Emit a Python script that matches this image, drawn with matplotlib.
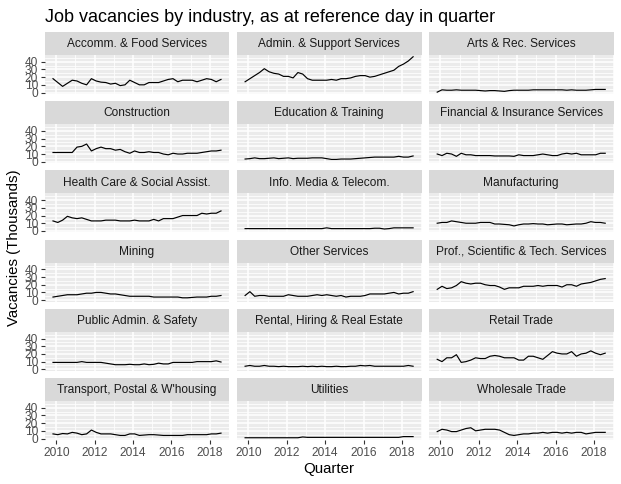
import matplotlib.pyplot as plt
import pandas as pd

plt.rcParams['font.family'] = ['Liberation Sans', 'DejaVu Sans']

# quarterly reference dates, Nov 2009 - Aug 2018
quarters = pd.date_range('2009-11-01', periods=36, freq='3MS')
xq = quarters.year + (quarters.month - 1) / 12

industries = [
    'Accomm. & Food Services', 'Admin. & Support Services', 'Arts & Rec. Services',
    'Construction', 'Education & Training', 'Financial & Insurance Services',
    'Health Care & Social Assist.', 'Info. Media & Telecom.', 'Manufacturing',
    'Mining', 'Other Services', 'Prof., Scientific & Tech. Services',
    'Public Admin. & Safety', 'Rental, Hiring & Real Estate', 'Retail Trade',
    'Transport, Postal & W\'housing', 'Utilities', 'Wholesale Trade',
]

# vacancies in thousands
accomm = [18, 13, 8, 12, 16, 15, 12, 10, 18, 15, 13.5, 13, 11, 12, 9, 10, 16, 13,
          10, 10, 13, 13, 13, 15, 17, 18, 14, 16, 16, 16, 14, 16, 18, 17, 14, 17]
admin = [14, 18, 22, 26, 31, 27, 25, 24, 21, 21, 19, 26, 24, 18, 16, 16, 16, 16,
         17, 16, 18, 18, 19, 21, 22, 22, 20, 21, 23, 25, 27, 29, 34, 37, 41, 46.5]
arts = [0.5, 3.5, 3, 3, 3.5, 3, 3, 3, 3, 2.5, 2, 2.5, 2.5, 2, 1.5, 2.5, 3, 3,
        3, 3, 3.5, 3.5, 3.5, 3.5, 3.5, 3.5, 3.5, 3, 3.5, 3, 3, 3, 3.5, 4, 4, 4]
construction = [12, 12, 12, 12, 12, 19, 20, 23, 14, 17, 19, 17, 17, 15, 16, 13, 11, 14,
                12, 12, 13, 12, 12, 10, 9, 11, 10, 10, 11, 11, 11, 12, 13, 14, 14, 15]
education = [3.5, 4, 5, 4, 4, 4.5, 5, 4, 4.5, 5, 4, 4.5, 4.5, 4.5, 5, 5, 5, 4,
             3, 3, 3.5, 3.5, 3.5, 4, 4.5, 5, 5.5, 6, 6, 6, 6, 6, 7, 6, 6, 7.5]
financial = [10, 8, 11, 10, 7, 11, 9, 9, 8, 8, 8, 8, 7.5, 7.5, 7.5, 7.5, 7, 9,
             8, 8, 8, 9, 10, 9, 8, 8, 10, 11, 10, 11, 9, 9, 9, 9, 11, 11]
health = [13, 11, 14, 19, 17, 16, 17, 15, 13, 13, 13, 14, 14, 14, 13, 13, 13, 14,
          13, 13, 13, 15, 13, 16, 16, 16, 18, 20, 20, 20, 20, 23, 22, 23, 23, 26]
info_media = [3, 3, 3, 3, 3, 3, 3, 3, 3, 3, 3, 3, 3, 3, 3, 3, 3, 4,
              3, 3, 3, 3, 3, 3, 3, 3, 3, 3.5, 3.5, 2.5, 3, 4, 4, 4, 4, 4]
manufacturing = [10, 11, 11, 13, 12, 11, 10, 10, 10, 11, 11, 11, 9, 9, 8.5, 8, 6.5, 8,
                 9, 9, 9.5, 9, 9, 8, 8.5, 9, 9, 8, 8.5, 9, 9, 10, 12, 11, 11, 10]
mining = [4, 5, 6, 7, 7, 7, 8, 9, 9, 10, 10, 9, 8, 8, 7, 6, 5, 5,
          5, 5, 5, 4, 4, 4, 4, 4, 4, 3, 3, 3.5, 4, 4, 4, 5, 5, 6]
other = [6, 11, 5, 6, 6, 5, 5, 5, 5, 7, 6, 5, 5, 5, 6, 7, 6, 7,
         6, 5, 6, 4, 5, 5, 5, 6, 8, 8, 8, 8, 9, 10, 8, 9, 9, 11]
prof_sci = [14, 18, 15, 16, 19, 24, 22, 21, 22, 22, 20, 19, 19, 17, 14, 16, 16, 16,
            18, 18, 18, 19, 18, 19, 19, 19, 17, 20, 20, 18, 21, 22, 23, 25, 27, 28]
public_admin = [9, 9, 9, 9, 9, 9, 10, 9, 9, 9, 9, 8, 7, 6, 6, 6, 6.5, 6,
                6, 7, 6, 6.5, 8, 7, 7, 9, 9, 9, 9, 9, 10, 10, 10, 10, 11, 9.5]
rental = [4, 5, 4, 4, 5, 4, 4, 3.5, 4, 3.5, 3.5, 3.5, 4, 3.5, 4, 3.5, 4, 3.5,
          3.5, 4, 3.5, 3.5, 4, 4, 5, 4.5, 5, 4, 4, 4, 4, 4, 4, 4, 5, 4]
retail = [13, 10, 15, 15, 19, 9, 10, 12, 15, 14, 14, 17, 18, 17, 15, 15, 15, 12,
          12, 17, 17, 15, 13, 18, 23, 21, 20, 20, 23, 17, 20, 21, 24, 21, 19, 21]
transport = [6, 5, 6.5, 6, 8, 7, 5, 6, 11, 8, 6, 6, 6, 5, 4, 4, 6, 6,
             4, 4.5, 5, 5, 4.5, 4, 4, 4, 4, 4, 5, 5, 5, 5, 5, 6, 6, 7]
utilities = [1, 1, 1, 1, 1, 1, 1, 1, 1, 1, 1, 1, 2, 1.5, 1.5, 1.5, 1.5, 1.5,
             1.5, 1.5, 1.5, 1.5, 1.5, 1.5, 1.5, 1.5, 1.5, 1.5, 1.5, 1.5, 1.5, 1.5, 1.5, 2.5, 2.5, 2.5]
wholesale = [9, 12, 11, 9, 9, 11, 13, 14, 10, 11, 12, 12, 12, 11, 8, 5, 4, 5,
             6, 6, 7, 7, 8, 7, 8, 8, 7, 8, 7, 8, 8, 6, 7, 8, 8, 8]

series = [accomm, admin, arts, construction, education, financial,
          health, info_media, manufacturing, mining, other, prof_sci,
          public_admin, rental, retail, transport, utilities, wholesale]

x_major = [2010, 2012, 2014, 2016, 2018]
x_minor = [2011, 2013, 2015, 2017, 2019]
y_major = [0, 10, 20, 30, 40]
y_minor = [5, 15, 25, 35, 45]

# shared scales, ggplot style 5% expansion
all_vals = [v for s in series for v in s]
ymin, ymax = min(all_vals), max(all_vals)
ypad = (ymax - ymin) * 0.05
xmin, xmax = xq.min(), xq.max()
xpad = (xmax - xmin) * 0.05

W, H = 621, 484
fig = plt.figure(figsize=(W / 100, H / 100), dpi=100)

col_left = [44.6, 236.7, 428.8]
pw, ph, sh = 184.8, 38.9, 23
pitch = 69.2
top0 = 32


def frac(x, y, w, h):
    return [x / W, 1 - (y + h) / H, w / W, h / H]


for k, (name, vals) in enumerate(zip(industries, series)):
    r, c = divmod(k, 3)
    st = top0 + r * pitch

    # strip
    sax = fig.add_axes(frac(col_left[c], st, pw, sh))
    sax.set_facecolor('#D9D9D9')
    sax.set_xticks([])
    sax.set_yticks([])
    for sp in sax.spines.values():
        sp.set_visible(False)
    sax.text(0.5, 0.47, name, ha='center', va='center', fontsize=8.6,
             color='#1A1A1A', transform=sax.transAxes)

    # panel
    ax = fig.add_axes(frac(col_left[c], st + sh, pw, ph))
    ax.set_facecolor('#EBEBEB')
    ax.plot(xq, vals, color='black', lw=0.85)
    ax.set_xlim(xmin - xpad, xmax + xpad)
    ax.set_ylim(ymin - ypad, ymax + ypad)
    ax.set_xticks(x_major)
    ax.set_xticks(x_minor, minor=True)
    ax.set_yticks(y_major)
    ax.set_yticks(y_minor, minor=True)
    ax.set_xticklabels([str(v) for v in x_major])
    ax.grid(which='major', color='white', lw=1.1)
    ax.grid(which='minor', color='white', lw=0.55)
    ax.set_axisbelow(True)
    for sp in ax.spines.values():
        sp.set_visible(False)
    ax.tick_params(which='major', length=2.66, width=0.8, color='#333333',
                   labelcolor='#4D4D4D', labelsize=8.6, pad=2.1)
    ax.tick_params(which='minor', length=0)
    if c != 0:
        ax.tick_params(left=False, labelleft=False)
    if r != 5:
        ax.tick_params(bottom=False, labelbottom=False)

fig.text(44.6 / W, 1 - 22.5 / H, 'Job vacancies by industry, as at reference day in quarter',
         fontsize=13, ha='left', va='baseline', color='black')
fig.text(329 / W, 1 - 476.5 / H, 'Quarter', fontsize=10.8, ha='center', va='bottom')
fig.text(14 / W, 1 - 247.5 / H, 'Vacancies (Thousands)', fontsize=10.8,
         ha='center', va='center', rotation=90)

fig.savefig('out.png', dpi=100)
